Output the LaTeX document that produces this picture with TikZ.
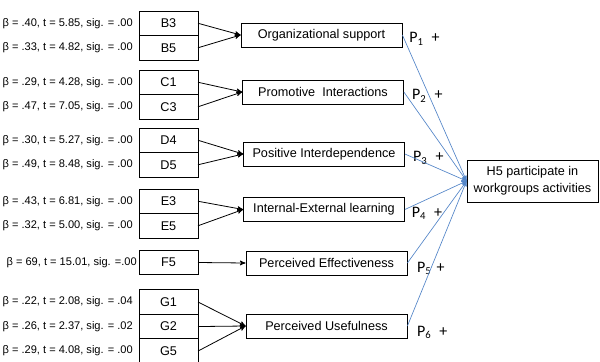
\documentclass[tikz,border=0pt]{standalone}
\usepackage{fontspec}
\setmainfont{Liberation Sans}
\newfontfamily\pfont{Carlito}
\usetikzlibrary{arrows,positioning}
\definecolor{hypblue}{RGB}{84,134,200}

\begin{document}
\begin{tikzpicture}[->,>=stealth',x=0.75pt,y=-0.75pt,
  item node/.style={draw,line width=0.6pt,outer sep=0pt,inner sep=0pt,minimum width=44.25pt,minimum height=18.4pt,font=\fontsize{9.5}{11}\selectfont},
  construct node/.style={draw,line width=0.6pt,inner sep=0pt,minimum width=120.75pt,minimum height=18pt,font=\fontsize{9.5}{11}\selectfont},
  outcome node/.style={draw,line width=0.6pt,inner sep=0pt,minimum width=98.25pt,minimum height=31.5pt,align=center,font=\fontsize{9.5}{13}\selectfont},
  beta node/.style={inner sep=0pt,font=\fontsize{8.3}{10}\selectfont},
  p node/.style={inner sep=0pt,font=\pfont\fontsize{12}{14}\selectfont},
  hyp/.style={draw=hypblue,line width=0.5pt}]
  \useasboundingbox (0,0) rectangle (600,361);

  % items
  \node[item node] (b3) at (168.5,23.25) {B3};
  \node[item node] (b5) [below=0pt of b3] {B5};
  \node[item node] (c1) at (168.5,82.25) {C1};
  \node[item node] (c3) [below=0pt of c1] {C3};
  \node[item node] (d4) at (168.5,140.25) {D4};
  \node[item node] (d5) [below=0pt of d4] {D5};
  \node[item node] (e3) at (168.5,201.25) {E3};
  \node[item node] (e5) [below=0pt of e3] {E5};
  \node[item node] (f5) at (168.5,262.5) {F5};
  \node[item node] (g1) at (168.5,302) {G1};
  \node[item node] (g2) [below=0pt of g1] {G2};
  \node[item node] (g5) [below=0pt of g2] {G5};

  % loadings
  \node[beta node] [left=4.5pt of b3] {β = .40, t = 5.85, sig. = .00};
  \node[beta node] [left=4.5pt of b5] {β = .33, t = 4.82, sig. = .00};
  \node[beta node] [left=4.5pt of c1] {β = .29, t = 4.28, sig. = .00};
  \node[beta node] [left=4.5pt of c3] {β = .47, t = 7.05, sig. = .00};
  \node[beta node] [left=4.5pt of d4] {β = .30, t = 5.27, sig. = .00};
  \node[beta node] [left=4.5pt of d5] {β = .49, t = 8.48, sig. = .00};
  \node[beta node] [left=4.5pt of e3] {β = .43, t = 6.81, sig. = .00};
  \node[beta node] [left=4.5pt of e5] {β = .32, t = 5.00, sig. = .00};
  \node[beta node] [left=1.5pt of f5] {β = 69, t = 15.01, sig. =.00};
  \node[beta node] [left=4.5pt of g1] {β = .22, t = 2.08, sig. = .04};
  \node[beta node] [left=4.5pt of g2] {β = .26, t = 2.37, sig. = .02};
  \node[beta node] [left=4.5pt of g5] {β = .29, t = 4.08, sig. = .00};

  % constructs
  \node[construct node] (org) at (321.5,35) {Organizational support};
  \node[construct node] (prom) at (323,92) {Promotive\ \ Interactions};
  \node[construct node] (pos) at (324,154) {Positive Interdependence};
  \node[construct node] (int) at (324,209.5) {Internal-External\ learning};
  \node[construct node] (eff) at (326.5,263) {Perceived Effectiveness};
  \node[construct node] (use) at (326.5,326) {Perceived Usefulness};

  \node[outcome node] (h5) at (532.5,181) {H5 participate in\\workgroups activities};

  % propositions
  \node[p node] [right=5pt of org, yshift=-3pt] {P\textsubscript{1}\hspace{6pt}+};
  \node[p node] [right=6pt of prom, yshift=-3pt] {P\textsubscript{2}\hspace{6pt}+};
  \node[p node] [right=6pt of pos, yshift=-3pt] {P\textsubscript{3}\hspace{6pt}+};
  \node[p node] [right=5pt of int, yshift=-3pt] {P\textsubscript{4}\hspace{6pt}+};
  \node[p node] [right=7pt of eff, yshift=-4pt] {P\textsubscript{5}\hspace{4pt}+};
  \node[p node] [right=7pt of use, yshift=-5pt] {P\textsubscript{6}\hspace{6pt}+};

  \path[line width=0.6pt]
  (b3.east) edge (org.west)
  (b5.east) edge (org.west)
  (c1.east) edge (prom.west)
  (c3.east) edge (prom.west)
  (d4.east) edge (pos.west)
  (d5.east) edge (pos.west)
  (e3.east) edge (int.west)
  (e5.east) edge (int.west)
  (f5.east) edge (eff.west)
  (g1.east) edge (use.west)
  (g2.east) edge (use.west)
  (g5.east) edge (use.west)
  (org.east) edge [hyp] (h5.west)
  (prom.east) edge [hyp] (h5.west)
  (pos.east) edge [hyp] (h5.west)
  (int.east) edge [hyp] (h5.west)
  (eff.east) edge [hyp] (h5.west)
  (use.east) edge [hyp] (h5.west)
  ;
\end{tikzpicture}
\end{document}
